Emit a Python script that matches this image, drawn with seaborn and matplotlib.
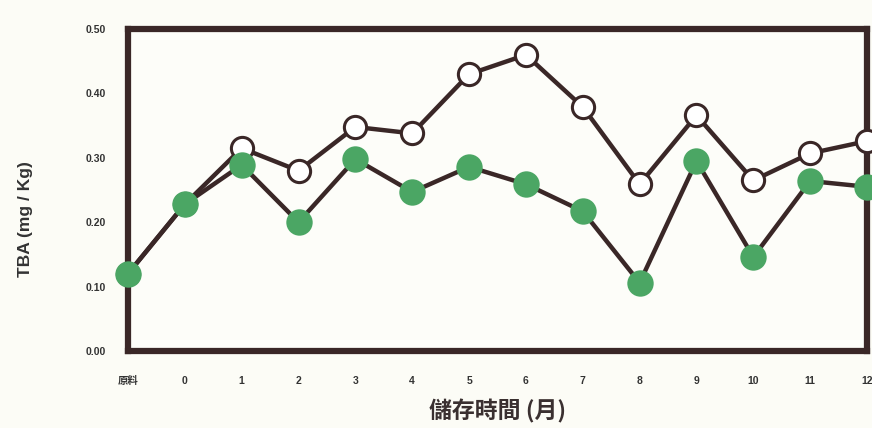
import pandas as pd
import matplotlib.pyplot as plt
import seaborn as sb

sb.set_style('white')
plt.rcParams['font.family'] = ['Liberation Sans', 'Noto Sans CJK TC', 'DejaVu Sans']

# data
months = ['原料', '0', '1', '2', '3', '4', '5', '6', '7', '8', '9', '10', '11', '12']
tba_open = [0.12, 0.228, 0.315, 0.28, 0.348, 0.338, 0.43, 0.46, 0.379, 0.259, 0.366, 0.265, 0.307, 0.326]
tba_green = [0.12, 0.228, 0.289, 0.20, 0.298, 0.247, 0.286, 0.259, 0.217, 0.106, 0.295, 0.146, 0.264, 0.255]

df = pd.DataFrame({'month': months, 'open': tba_open, 'green': tba_green})

dark = '#3a2727'
green = '#4ba664'

fig = plt.figure(figsize=(8.72, 4.28), dpi=100, facecolor='#fcfcf6')
ax = fig.add_axes([0.1468, 0.18, 0.8475, 0.752])
ax.set_facecolor('#fdfdf9')

sb.lineplot(data=df, x='month', y='open', ax=ax, color=dark, linewidth=3.2,
            marker='o', markersize=16, markerfacecolor='white',
            markeredgecolor=dark, markeredgewidth=2.2, zorder=3, clip_on=False)
sb.lineplot(data=df, x='month', y='green', ax=ax, color=dark, linewidth=3.2,
            marker='o', markersize=19, markerfacecolor=green,
            markeredgecolor=green, markeredgewidth=0, zorder=4, clip_on=False)

ax.set_xlim(0, len(months) - 1)
ax.set_ylim(0, 0.5)
ax.set_yticks([0.0, 0.1, 0.2, 0.3, 0.4, 0.5])
ax.set_yticklabels(['0.00', '0.10', '0.20', '0.30', '0.40', '0.50'])

for s in ax.spines.values():
    s.set_color(dark)
    s.set_linewidth(4.5)
    s.set_visible(True)

ax.tick_params(direction='in', length=4, width=2.5, color=dark,
               labelsize=7.5, labelcolor='#333333')
ax.tick_params(axis='y', pad=16)
ax.tick_params(axis='x', pad=18)
for lab in ax.get_xticklabels() + ax.get_yticklabels():
    lab.set_fontweight('bold')

ax.set_ylabel('TBA (mg / Kg)', fontsize=12.5, fontweight='bold', color='#333333')
ax.yaxis.set_label_coords(-0.128, 0.41)
ax.set_xlabel('儲存時間 (月)', fontsize=16.5, fontweight='bold', color='#3a3030',
              family=['Noto Sans CJK TC', 'DejaVu Sans'])
ax.xaxis.set_label_coords(0.5, -0.15)

plt.savefig('out.png', dpi=100, facecolor=fig.get_facecolor())
